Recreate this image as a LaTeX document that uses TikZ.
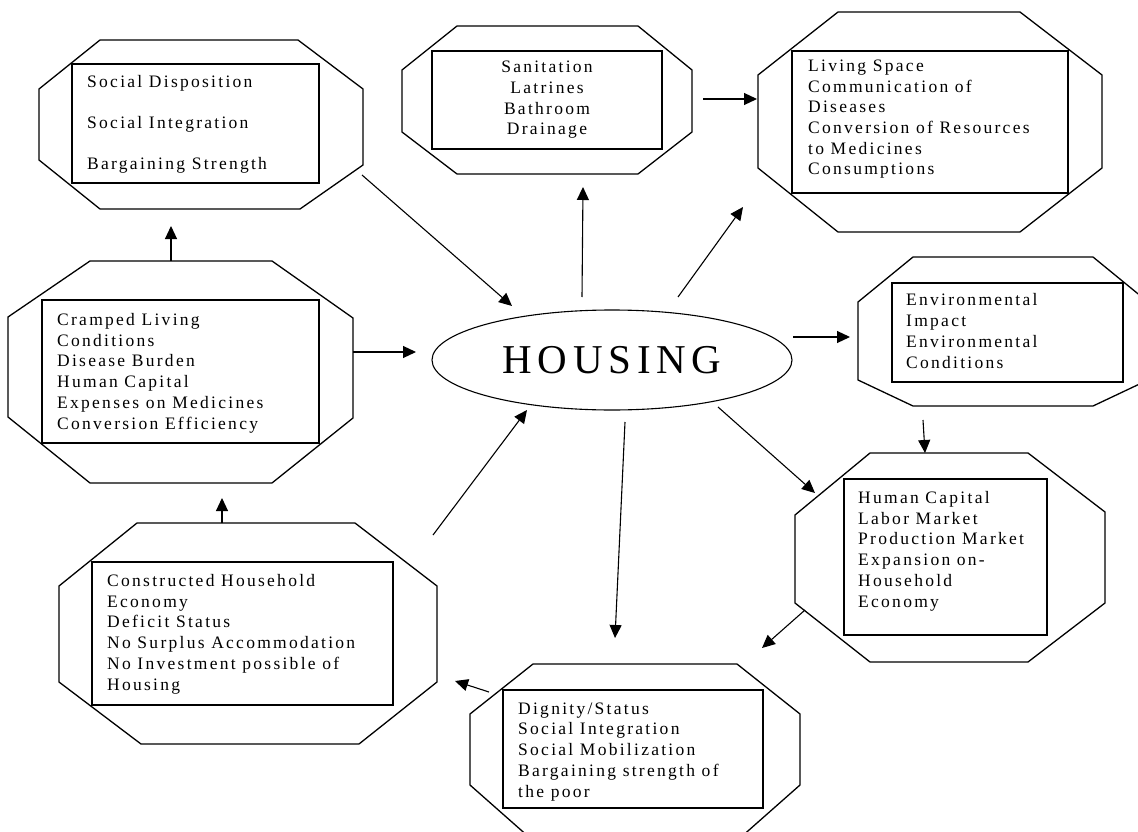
\documentclass[tikz,border=0pt]{standalone}
\usepackage{fontspec}
\setmainfont{Liberation Serif}
\newfontfamily\boxfont[LetterSpace=13]{Liberation Serif}
\newfontfamily\hubfont[LetterSpace=14]{Liberation Serif}
\usetikzlibrary{arrows.meta,shapes.geometric}

\begin{document}
\begin{tikzpicture}[x=1pt,y=-1pt,
  oct/.style={draw,line width=1.3pt,line join=miter},
  frame/.style={draw,line width=1.3pt},
  item/.style={font=\boxfont\fontsize{17.5}{20.7}\selectfont,inner sep=0pt,align=left,anchor=base west},
  link/.style={line width=1.1pt,-{Triangle[length=13pt,width=12pt]}},
  hub/.style={ellipse,draw,line width=1.1pt,minimum width=360pt,minimum height=100pt,inner sep=0pt,
    font=\hubfont\fontsize{41}{41}\selectfont}]

\useasboundingbox (0,0) rectangle (1138,832);
\clip (0,0) rectangle (1138,832);

% outer octagons
\draw[oct] (100,40) -- (298,40) -- (363,89) -- (363,165) -- (300,209) -- (100,209) -- (39,160) -- (39,89) -- cycle;
\draw[oct] (457,26) -- (638,26) -- (692,70) -- (692,132) -- (638,174) -- (457,174) -- (402,132) -- (402,70) -- cycle;
\draw[oct] (838,12) -- (1020,12) -- (1102,75) -- (1102,168) -- (1020,232) -- (838,232) -- (758,168) -- (758,75) -- cycle;
\draw[oct] (90,261) -- (272,261) -- (353,318) -- (353,418) -- (272,483) -- (90,483) -- (8,417) -- (8,317) -- cycle;
\draw[oct] (913,257) -- (1093,257) -- (1148,302) -- (1148,380) -- (1093,406) -- (913,406) -- (858,380) -- (858,302) -- cycle;
\draw[oct] (870,453) -- (1028,453) -- (1105,512) -- (1105,603) -- (1028,662) -- (870,662) -- (795,603) -- (795,515) -- cycle;
\draw[oct] (137,523) -- (355,523) -- (437,586) -- (437,682) -- (359,744) -- (141,744) -- (59,682) -- (59,586) -- cycle;
\draw[oct] (533,664) -- (737,664) -- (800,714) -- (800,785) -- (740,838) -- (530,838) -- (470,785) -- (470,714) -- cycle;

% inner frames
\draw[frame] (72,64) rectangle (319,183);
\draw[frame] (432,51) rectangle (662,149);
\draw[frame] (792,51) rectangle (1068,193);
\draw[frame] (42,300) rectangle (319,443);
\draw[frame] (892,283) rectangle (1123,382);
\draw[frame] (844,479) rectangle (1047,635);
\draw[frame] (92,562) rectangle (393,705);
\draw[frame] (503,690) rectangle (763,808);

% texts, placed by the baseline of their last line
\node[item] (social) at (87,170) {Social Disposition\\[20.3pt]Social Integration\\[20.3pt]Bargaining Strength};
\node[item,align=center,anchor=base] (sanit) at (547,135) {Sanitation\\Latrines\\Bathroom\\Drainage};
\node[item] (space) at (808,175) {Living Space\\Communication of\\Diseases\\Conversion of Resources\\to Medicines\\Consumptions};
\node[item] (cramped) at (57,429) {Cramped Living\\Conditions\\Disease Burden\\Human Capital\\Expenses on Medicines\\Conversion Efficiency};
\node[item] (envir) at (906,368) {Environmental\\Impact\\Environmental\\Conditions};
\node[item] (capital) at (858,607) {Human Capital\\Labor Market\\Production Market\\Expansion on-\\Household\\Economy};
\node[item] (economy) at (107,690) {Constructed Household\\Economy\\Deficit Status\\No Surplus Accommodation\\No Investment possible of\\Housing};
\node[item] (dignity) at (518,797) {Dignity/Status\\Social Integration\\Social Mobilization\\Bargaining strength of\\the poor};

% centre
\node[hub] (housing) at (612,360) {HOUSING};

% connector ends
\coordinate (a1s) at (362,175);  \coordinate (a1e) at (512,306);
\coordinate (a2s) at (582,297);  \coordinate (a2e) at (583,187);
\coordinate (a3s) at (703,99);   \coordinate (a3e) at (757,99);
\coordinate (a4s) at (678,297);  \coordinate (a4e) at (743,207);
\coordinate (a5s) at (353,352);  \coordinate (a5e) at (416,352);
\coordinate (a6s) at (793,337);  \coordinate (a6e) at (850,337);
\coordinate (a7s) at (171,261);  \coordinate (a7e) at (171,226);
\coordinate (a8s) at (923,420);  \coordinate (a8e) at (925,453);
\coordinate (a9s) at (718,407);  \coordinate (a9e) at (815,493);
\coordinate (a10s) at (805,610); \coordinate (a10e) at (762,648);
\coordinate (a11s) at (625,422); \coordinate (a11e) at (615,638);
\coordinate (a12s) at (489,692); \coordinate (a12e) at (455,681);
\coordinate (a13s) at (222,523); \coordinate (a13e) at (222,498);
\coordinate (a14s) at (433,535); \coordinate (a14e) at (527,410);

\foreach \k in {1,...,14} \draw[link] (a\k s) -- (a\k e);

\end{tikzpicture}
\end{document}
